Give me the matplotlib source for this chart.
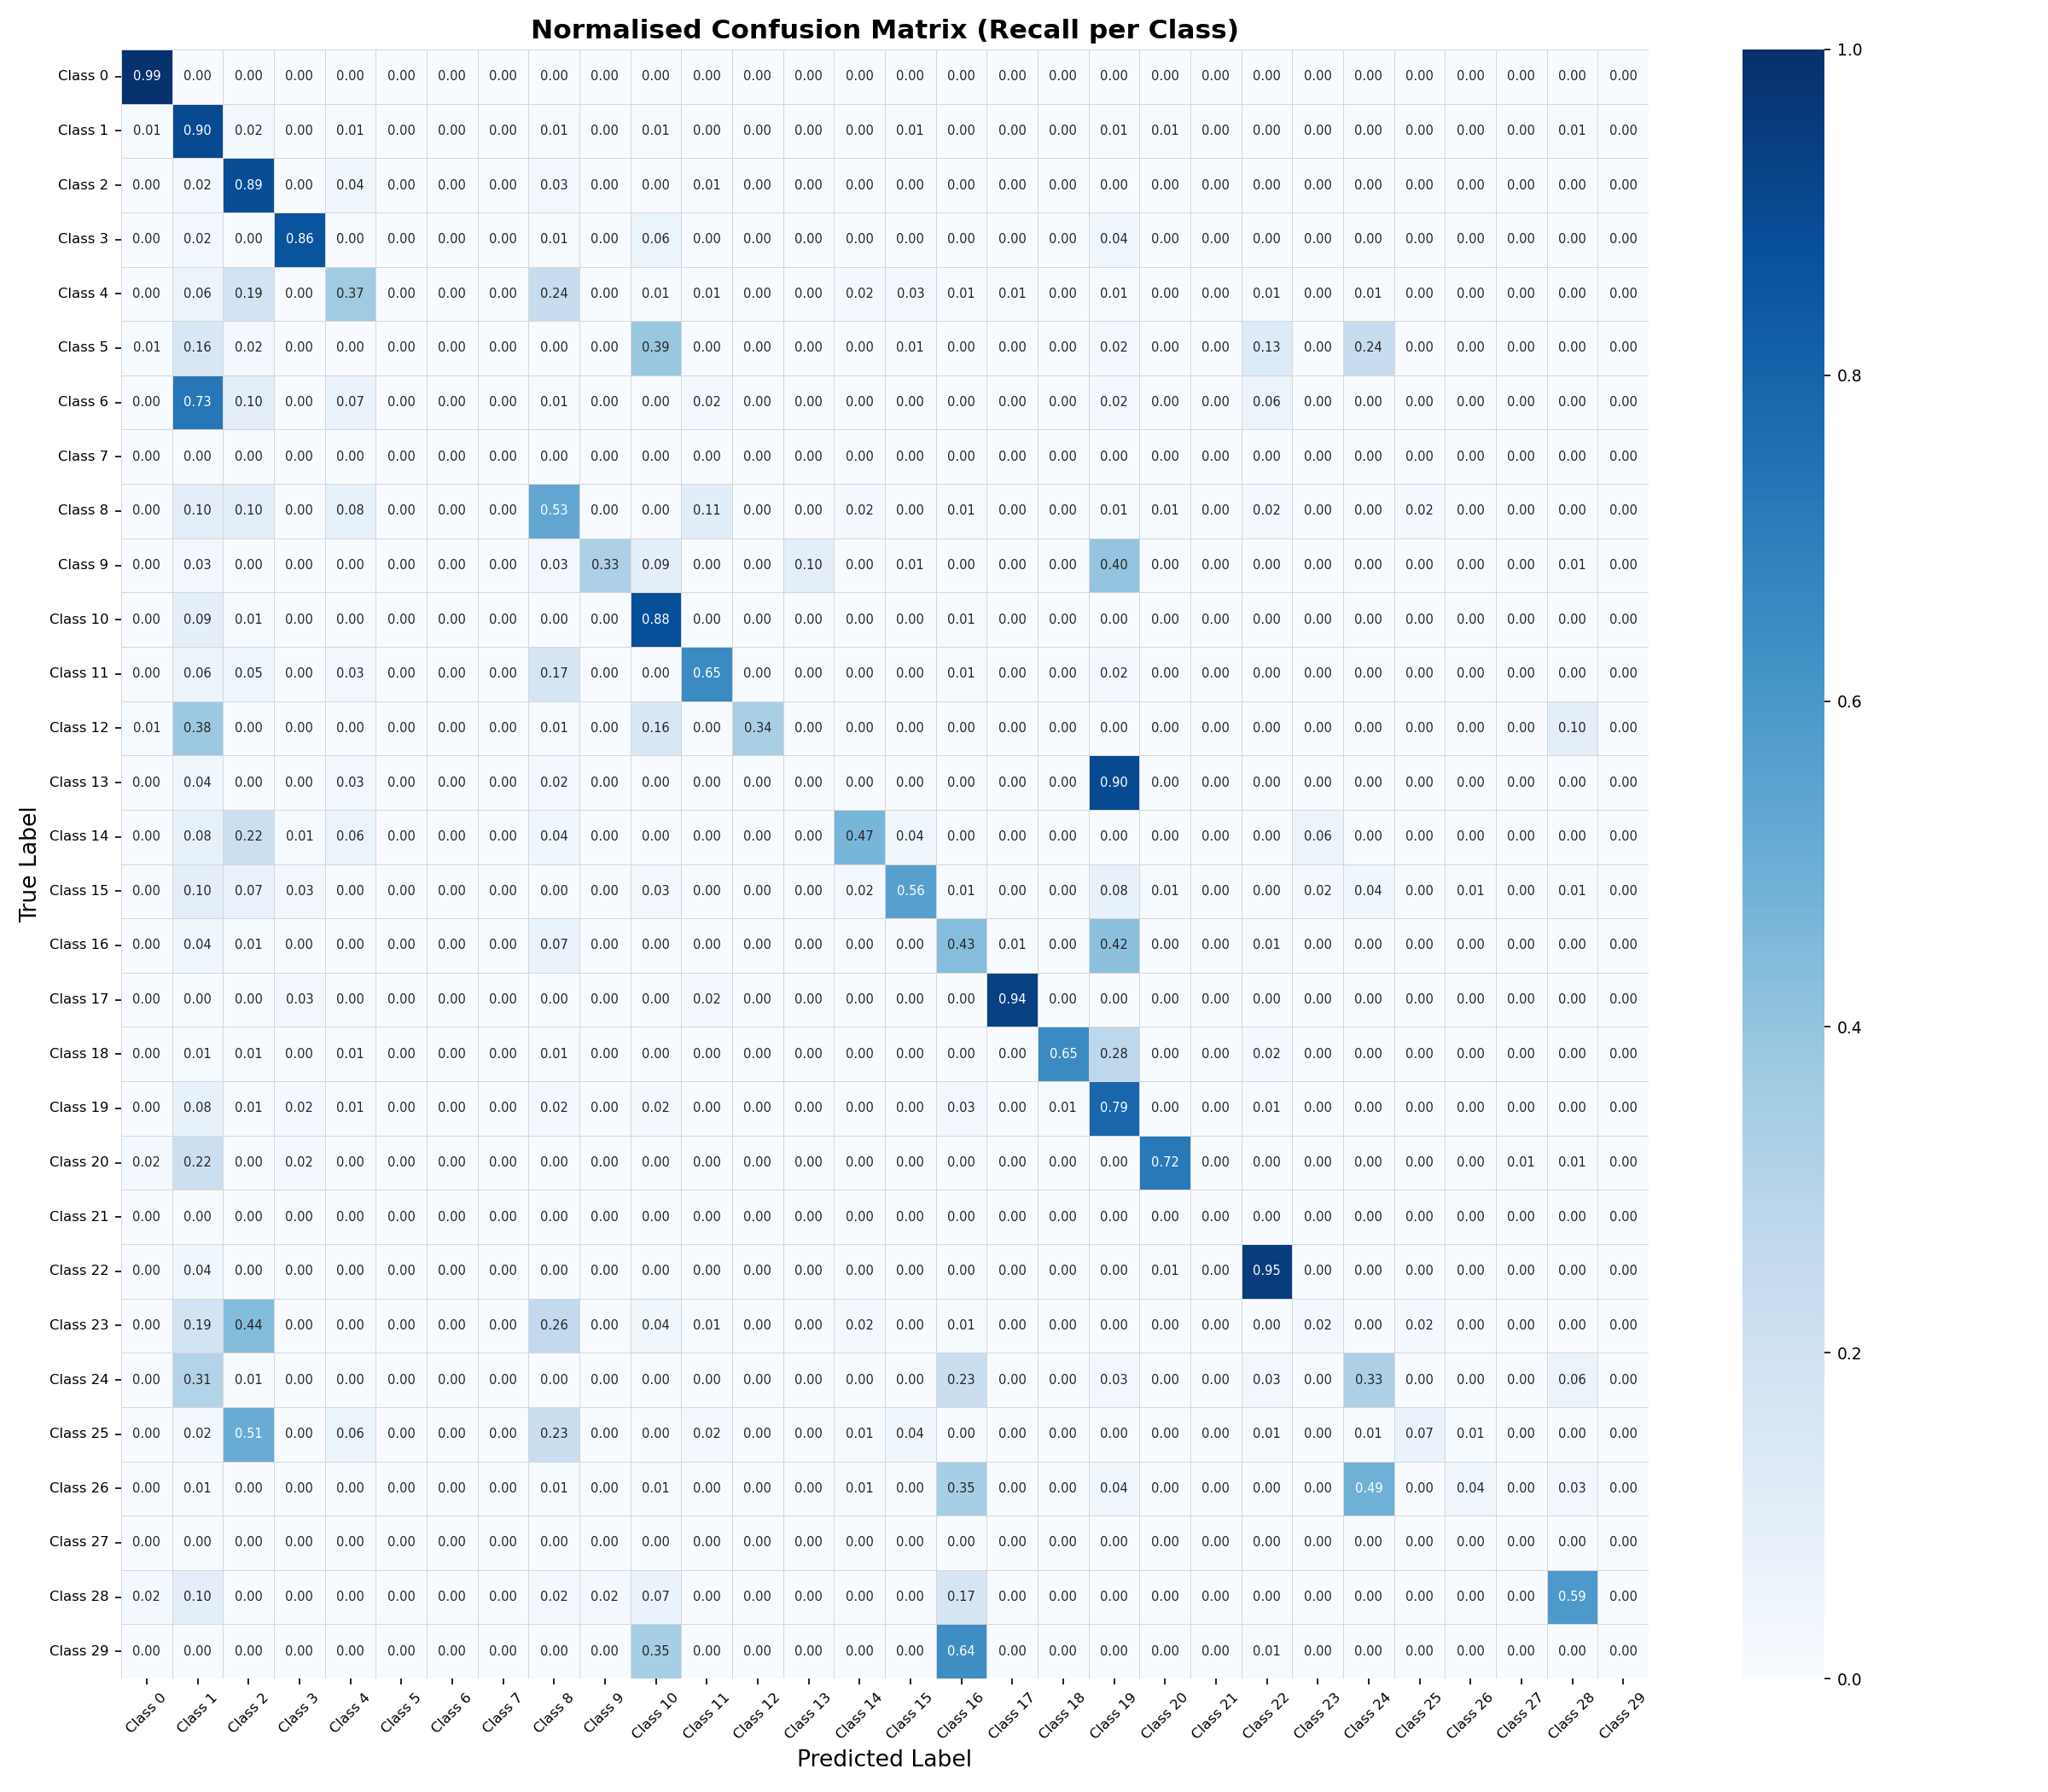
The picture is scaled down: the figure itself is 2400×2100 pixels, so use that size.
"""Normalised confusion matrix heatmap (recall per class)."""

import matplotlib
matplotlib.use("Agg")
import matplotlib.pyplot as plt
import numpy as np
import seaborn as sns

class_names = [f"Class {i}" for i in range(30)]

# recall per true class (rows) vs predicted class (columns)
z10 = [0, 0, 0, 0, 0, 0, 0, 0, 0, 0]
recall_rows = [
    [.99, 0, 0, 0, 0, 0, 0, 0, 0, 0] + z10 + z10,
    [.01, .90, .02, 0, .01, 0, 0, 0, .01, 0, .01, 0, 0, 0, 0, .01, 0, 0, 0, .01, .01, 0, 0, 0, 0, 0, 0, 0, .01, 0],
    [0, .02, .89, 0, .04, 0, 0, 0, .03, 0, 0, .01, 0, 0, 0, 0, 0, 0, 0, 0] + z10,
    [0, .02, 0, .86, 0, 0, 0, 0, .01, 0, .06, 0, 0, 0, 0, 0, 0, 0, 0, .04] + z10,
    [0, .06, .19, 0, .37, 0, 0, 0, .24, 0, .01, .01, 0, 0, .02, .03, .01, .01, 0, .01, 0, 0, .01, 0, .01, 0, 0, 0, 0, 0],
    [.01, .16, .02, 0, 0, 0, 0, 0, 0, 0, .39, 0, 0, 0, 0, .01, 0, 0, 0, .02, 0, 0, .13, 0, .24, 0, 0, 0, 0, 0],
    [0, .73, .10, 0, .07, 0, 0, 0, .01, 0, 0, .02, 0, 0, 0, 0, 0, 0, 0, .02, 0, 0, .06, 0, 0, 0, 0, 0, 0, 0],
    z10 + z10 + z10,
    [0, .10, .10, 0, .08, 0, 0, 0, .53, 0, 0, .11, 0, 0, .02, 0, .01, 0, 0, .01, .01, 0, .02, 0, 0, .02, 0, 0, 0, 0],
    [0, .03, 0, 0, 0, 0, 0, 0, .03, .33, .09, 0, 0, .10, 0, .01, 0, 0, 0, .40, 0, 0, 0, 0, 0, 0, 0, 0, .01, 0],
    [0, .09, .01, 0, 0, 0, 0, 0, 0, 0, .88, 0, 0, 0, 0, 0, .01, 0, 0, 0] + z10,
    [0, .06, .05, 0, .03, 0, 0, 0, .17, 0, 0, .65, 0, 0, 0, 0, .01, 0, 0, .02] + z10,
    [.01, .38, 0, 0, 0, 0, 0, 0, .01, 0, .16, 0, .34, 0, 0, 0, 0, 0, 0, 0, 0, 0, 0, 0, 0, 0, 0, 0, .10, 0],
    [0, .04, 0, 0, .03, 0, 0, 0, .02, 0, 0, 0, 0, 0, 0, 0, 0, 0, 0, .90] + z10,
    [0, .08, .22, .01, .06, 0, 0, 0, .04, 0, 0, 0, 0, 0, .47, .04, 0, 0, 0, 0, 0, 0, 0, .06, 0, 0, 0, 0, 0, 0],
    [0, .10, .07, .03, 0, 0, 0, 0, 0, 0, .03, 0, 0, 0, .02, .56, .01, 0, 0, .08, .01, 0, 0, .02, .04, 0, .01, 0, .01, 0],
    [0, .04, .01, 0, 0, 0, 0, 0, .07, 0, 0, 0, 0, 0, 0, 0, .43, .01, 0, .42, 0, 0, .01, 0, 0, 0, 0, 0, 0, 0],
    [0, 0, 0, .03, 0, 0, 0, 0, 0, 0, 0, .02, 0, 0, 0, 0, 0, .94, 0, 0] + z10,
    [0, .01, .01, 0, .01, 0, 0, 0, .01, 0, 0, 0, 0, 0, 0, 0, 0, 0, .65, .28, 0, 0, .02, 0, 0, 0, 0, 0, 0, 0],
    [0, .08, .01, .02, .01, 0, 0, 0, .02, 0, .02, 0, 0, 0, 0, 0, .03, 0, .01, .79, 0, 0, .01, 0, 0, 0, 0, 0, 0, 0],
    [.02, .22, 0, .02, 0, 0, 0, 0, 0, 0] + z10 + [.72, 0, 0, 0, 0, 0, 0, .01, .01, 0],
    z10 + z10 + z10,
    [0, .04, 0, 0, 0, 0, 0, 0, 0, 0] + z10 + [.01, 0, .95, 0, 0, 0, 0, 0, 0, 0],
    [0, .19, .44, 0, 0, 0, 0, 0, .26, 0, .04, .01, 0, 0, .02, 0, .01, 0, 0, 0, 0, 0, 0, .02, 0, .02, 0, 0, 0, 0],
    [0, .31, .01, 0, 0, 0, 0, 0, 0, 0, 0, 0, 0, 0, 0, 0, .23, 0, 0, .03, 0, 0, .03, 0, .33, 0, 0, 0, .06, 0],
    [0, .02, .51, 0, .06, 0, 0, 0, .23, 0, 0, .02, 0, 0, .01, .04, 0, 0, 0, 0, 0, 0, .01, 0, .01, .07, .01, 0, 0, 0],
    [0, .01, 0, 0, 0, 0, 0, 0, .01, 0, .01, 0, 0, 0, .01, 0, .35, 0, 0, .04, 0, 0, 0, 0, .49, 0, .04, 0, .03, 0],
    z10 + z10 + z10,
    [.02, .10, 0, 0, 0, 0, 0, 0, .02, .02, .07, 0, 0, 0, 0, 0, .17, 0, 0, 0, 0, 0, 0, 0, 0, 0, 0, 0, .59, 0],
    z10 + [.35, 0, 0, 0, 0, 0, .64, 0, 0, 0, 0, 0, .01, 0, 0, 0, 0, 0, 0, 0],
]

cm = np.array(recall_rows, dtype=float)

fig = plt.figure(figsize=(16, 14), dpi=150)
ax = fig.add_axes([0.0592, 0.0633, 0.7458, 0.9091])
cax = fig.add_axes([0.8508, 0.0633, 0.04, 0.9091])

sns.heatmap(cm, ax=ax, cbar_ax=cax, cmap="Blues", vmin=0, vmax=1,
            annot=True, fmt=".2f", annot_kws={"fontsize": 7},
            linewidths=0.35, linecolor="#d6d6d6",
            xticklabels=class_names, yticklabels=class_names)

ax.set_xticklabels(class_names, rotation=45, ha="center", fontsize=7.9)
ax.set_yticklabels(class_names, rotation=0, fontsize=7.9)
ax.set_xlabel("Predicted Label", fontsize=12.8)
ax.set_ylabel("True Label", fontsize=12.8)
ax.set_title("Normalised Confusion Matrix (Recall per Class)", fontsize=15, fontweight="bold")
cax.tick_params(labelsize=9)

fig.savefig("out.png", dpi=150)
